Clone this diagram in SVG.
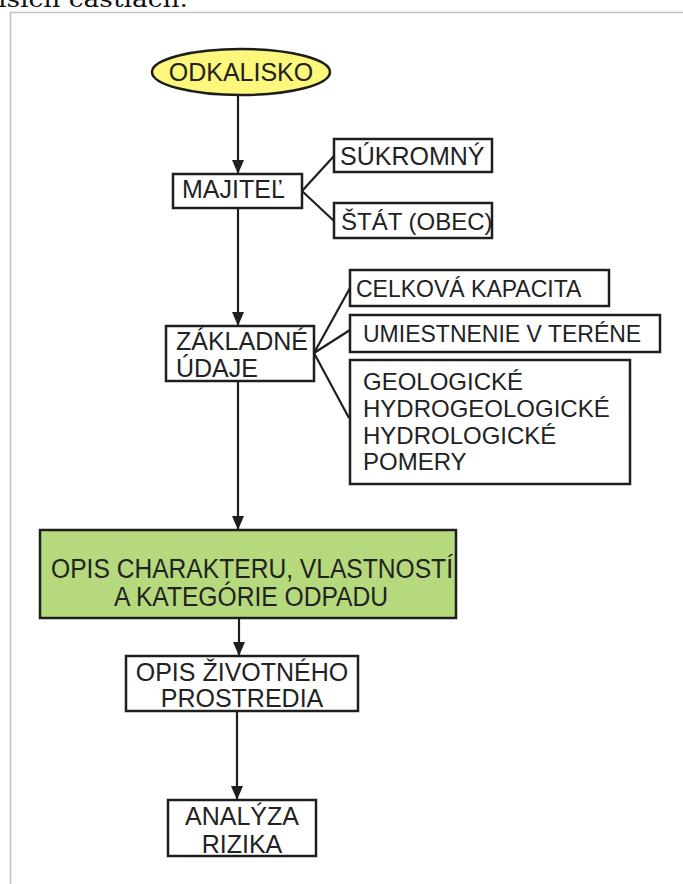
<svg xmlns="http://www.w3.org/2000/svg" width="683" height="884" viewBox="0 0 683 884">
  <style>
    .box { fill: #ffffff; stroke: #1e1e1e; stroke-width: 2.5; }
    .lbl { font-family: "Liberation Sans", Arial, sans-serif; fill: #222222; }
    .wire { stroke: #1e1e1e; stroke-width: 2.2; fill: none; }
  </style>
  <defs>
    <!-- filled arrowhead, drawn along +x so orient="auto" points it down the line -->
    <marker id="arrow" markerUnits="userSpaceOnUse" markerWidth="14" markerHeight="12" refX="14" refY="6" orient="auto" viewBox="0 0 14 12">
      <path d="M0,0 L14,6 L0,12 Z" fill="#1e1e1e"/>
    </marker>
  </defs>

  <rect x="0" y="0" width="683" height="884" fill="#ffffff"/>

  <!-- running text above the figure, partly cut off by the page edge -->
  <text x="-2" y="7" font-family="'DejaVu Serif', 'Liberation Serif', serif" font-size="22" fill="#111" textLength="190" lengthAdjust="spacingAndGlyphs">isich častiach.</text>

  <!-- figure frame -->
  <path d="M10.5,884 L10.5,12.5 L683,12.5" fill="none" stroke="#c4c4c4" stroke-width="1.6"/>

  <!-- connectors -->
  <g id="connectors">
    <line class="wire" x1="238" y1="95" x2="238" y2="174" marker-end="url(#arrow)"/>
    <line class="wire" x1="238" y1="208" x2="238" y2="326" marker-end="url(#arrow)"/>
    <line class="wire" x1="238" y1="381" x2="238" y2="530" marker-end="url(#arrow)"/>
    <line class="wire" x1="239" y1="618" x2="239" y2="656" marker-end="url(#arrow)"/>
    <line class="wire" x1="237" y1="711" x2="237" y2="800" marker-end="url(#arrow)"/>
    <polyline class="wire" points="334,156 302,191 334,221"/>
    <line class="wire" x1="314" y1="353" x2="350" y2="288"/>
    <line class="wire" x1="314" y1="353" x2="350" y2="330"/>
    <line class="wire" x1="314" y1="353" x2="349" y2="418"/>
  </g>

  <g id="odkalisko">
    <ellipse cx="241" cy="72" rx="89" ry="23" fill="#fdf87c" stroke="#1e1e1e" stroke-width="2.5"/>
    <text class="lbl" x="241" y="81" font-size="25" text-anchor="middle">ODKALISKO</text>
  </g>

  <g id="majitel">
    <rect class="box" x="173" y="174" width="129" height="34"/>
    <text class="lbl" x="182" y="198" font-size="25">MAJITEĽ</text>
  </g>

  <g id="sukromny">
    <rect class="box" x="334" y="139" width="158" height="33"/>
    <text class="lbl" x="340" y="165" font-size="25">SÚKROMNÝ</text>
  </g>

  <g id="stat">
    <rect class="box" x="334" y="203" width="158" height="35"/>
    <text class="lbl" x="341" y="230" font-size="24">ŠTÁT (OBEC)</text>
  </g>

  <g id="zakladne-udaje">
    <rect class="box" x="166" y="326" width="148" height="55"/>
    <text class="lbl" x="176" y="350" font-size="25">ZÁKLADNÉ</text>
    <text class="lbl" x="176" y="377" font-size="25">ÚDAJE</text>
  </g>

  <g id="kapacita">
    <rect class="box" x="350" y="270" width="259" height="36"/>
    <text class="lbl" x="356" y="297" font-size="23">CELKOVÁ KAPACITA</text>
  </g>

  <g id="umiestnenie">
    <rect class="box" x="350" y="315" width="310" height="37"/>
    <text class="lbl" x="363" y="342" font-size="23">UMIESTNENIE V TERÉNE</text>
  </g>

  <g id="pomery">
    <rect class="box" x="350" y="360" width="280" height="124"/>
    <text class="lbl" x="363" y="390" font-size="24">GEOLOGICKÉ</text>
    <text class="lbl" x="363" y="417" font-size="24">HYDROGEOLOGICKÉ</text>
    <text class="lbl" x="363" y="444" font-size="24">HYDROLOGICKÉ</text>
    <text class="lbl" x="363" y="470" font-size="24">POMERY</text>
  </g>

  <g id="opis-odpadu">
    <rect x="40" y="530" width="416" height="88" fill="#b5d97c" stroke="#1e1e1e" stroke-width="2.5"/>
    <text class="lbl" x="51" y="578" font-size="27" textLength="402" lengthAdjust="spacingAndGlyphs">OPIS CHARAKTERU, VLASTNOSTÍ</text>
    <text class="lbl" x="114" y="606" font-size="27" textLength="274" lengthAdjust="spacingAndGlyphs">A KATEGÓRIE ODPADU</text>
  </g>

  <g id="opis-prostredia">
    <rect class="box" x="126" y="656" width="232" height="55"/>
    <text class="lbl" x="242" y="681" font-size="25" text-anchor="middle">OPIS ŽIVOTNÉHO</text>
    <text class="lbl" x="242" y="707" font-size="25" text-anchor="middle">PROSTREDIA</text>
  </g>

  <g id="analyza-rizika">
    <rect class="box" x="168" y="800" width="148" height="56"/>
    <text class="lbl" x="242" y="825" font-size="25" text-anchor="middle">ANALÝZA</text>
    <text class="lbl" x="242" y="853" font-size="25" text-anchor="middle">RIZIKA</text>
  </g>
</svg>
